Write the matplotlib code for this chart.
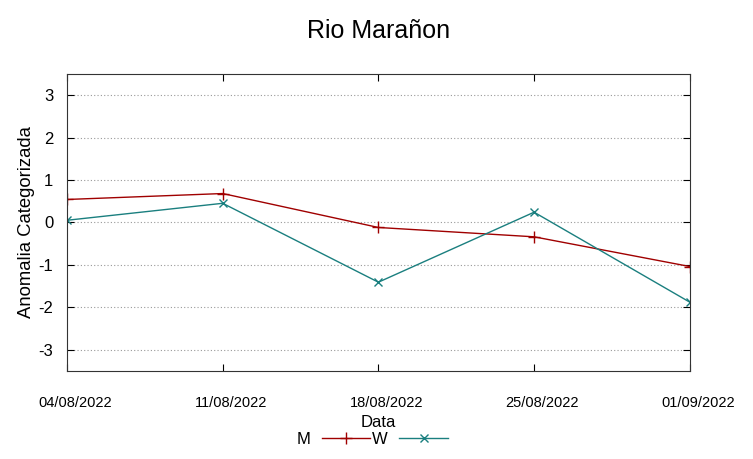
import matplotlib.pyplot as plt
import matplotlib.transforms as mtransforms

plt.rcParams['font.family'] = ['Liberation Sans', 'DejaVu Sans']

# data
dates = ['04/08/2022', '11/08/2022', '18/08/2022', '25/08/2022', '01/09/2022']
m_vals = [0.54, 0.68, -0.12, -0.34, -1.04]
w_vals = [0.05, 0.45, -1.41, 0.24, -1.88]
y_ticks = [-3, -2, -1, 0, 1, 2, 3]

fig = plt.figure(figsize=(7.53, 4.59), dpi=100)
ax = fig.add_axes([0.089, 0.192, 0.827, 0.647])

x = list(range(len(dates)))
ax.plot(x, m_vals, color='#a00000', lw=1, marker='+', ms=8, mew=1, label='M')
ax.plot(x, w_vals, color='#1a7f7f', lw=1, marker='x', ms=6, mew=1, label='W')

ax.set_xlim(0, len(dates) - 1)
ax.set_ylim(-3.5, 3.5)
ax.set_xticks(x)
ax.set_xticklabels(dates, fontsize=10.5)
ax.set_yticks(y_ticks)
ax.set_yticklabels([str(v) for v in y_ticks], fontsize=12)
ax.tick_params(direction='in', length=5, top=True, right=True)
ax.tick_params(axis='y', pad=10)
ax.tick_params(axis='x', pad=18)
# gnuplot puts the date labels a bit to the right of the ticks
shift = mtransforms.ScaledTranslation(8 / 100, 0, fig.dpi_scale_trans)
for lab in ax.get_xticklabels():
    lab.set_transform(lab.get_transform() + shift)
ax.grid(axis='y', linestyle=(0, (1, 2)), color='#999999', lw=0.8)
for s in ax.spines.values():
    s.set_color('#333333')

ax.set_title('Rio Marañon', fontsize=18, pad=26)
ax.set_ylabel('Anomalia Categorizada', fontsize=13.3)
ax.yaxis.set_label_coords(-0.052, 0.5)
ax.set_xlabel('Data', fontsize=12)
ax.xaxis.set_label_coords(0.5, -0.148)

ax.legend(loc='center', bbox_to_anchor=(0.49, -0.232), ncol=2, frameon=False,
          markerfirst=False, fontsize=12, handlelength=2.9, columnspacing=0.1,
          handletextpad=0.7, borderaxespad=0)

fig.savefig('out.png', dpi=100)
